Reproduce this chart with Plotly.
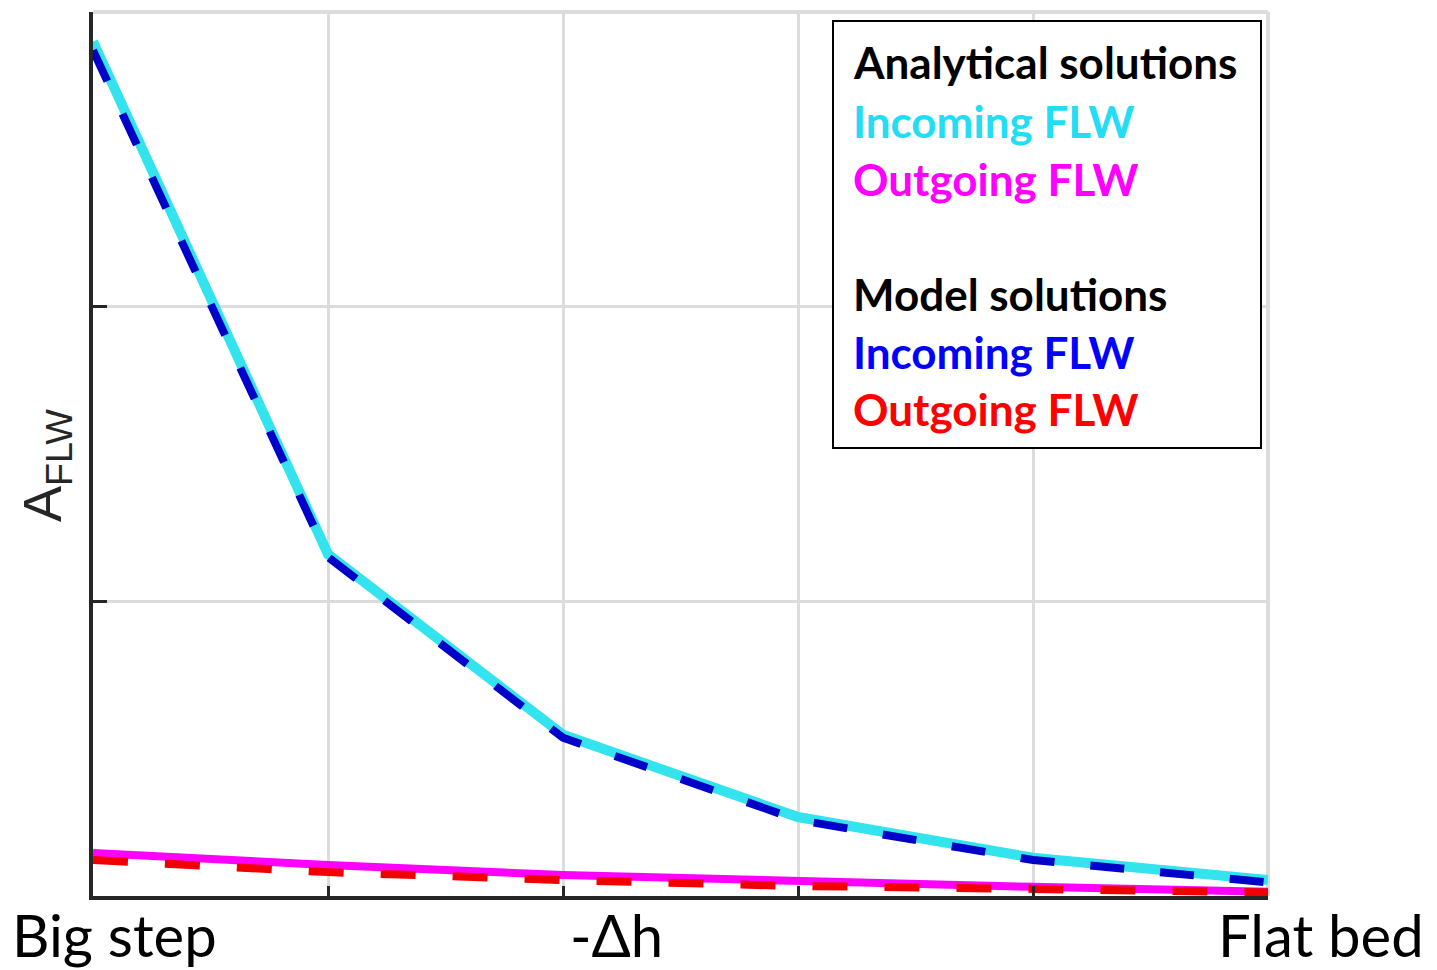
import plotly.graph_objects as go

# Data (arbitrary units)
x_pos = [0, 1, 2, 3, 4, 5]
analytical_incoming = [2.90, 1.16, 0.547, 0.268, 0.130, 0.054]
model_incoming = [2.87, 1.15, 0.537, 0.258, 0.122, 0.046]
analytical_outgoing = [0.146, 0.105, 0.071, 0.048, 0.031, 0.014]
model_outgoing = [0.122, 0.081, 0.054, 0.034, 0.024, 0.012]

x_tick_labels = ["Big step", "-Δh", "Flat bed"]
legend_groups = [
    ("Analytical solutions", "#000000"),
    ("Incoming FLW", "#22DDF5"),
    ("Outgoing FLW", "#FF00FF"),
    ("Model solutions", "#000000"),
    ("Incoming FLW", "#0000FF"),
    ("Outgoing FLW", "#FF0000"),
]

W, H = 1437, 970
L, R, T, B = 93, 169, 12, 74

fig = go.Figure()
fig.add_trace(go.Scatter(x=x_pos, y=analytical_incoming, mode="lines",
                         line=dict(color="#33E3EE", width=10), cliponaxis=False))
fig.add_trace(go.Scatter(x=x_pos, y=model_incoming, mode="lines",
                         line=dict(color="#0000C8", width=8, dash="34px,36px"), cliponaxis=False))
fig.add_trace(go.Scatter(x=x_pos, y=analytical_outgoing, mode="lines",
                         line=dict(color="#FF00FF", width=8), cliponaxis=False))
fig.add_trace(go.Scatter(x=x_pos, y=model_outgoing, mode="lines",
                         line=dict(color="#F00000", width=8, dash="35px,37px"), cliponaxis=False))

fig.update_xaxes(range=[0, 5], tickvals=[1, 2, 3, 4, 5], showticklabels=False,
                 ticks="inside", ticklen=10, tickwidth=3, tickcolor="#262626",
                 showgrid=True, gridcolor="#DCDCDC", gridwidth=3,
                 showline=True, linecolor="#262626", linewidth=4, zeroline=False)
fig.update_yaxes(range=[0, 3], tickvals=[1, 2, 3], showticklabels=False,
                 ticks="inside", ticklen=14, tickwidth=3, tickcolor="#262626",
                 showgrid=True, gridcolor="#DCDCDC", gridwidth=3,
                 showline=True, linecolor="#262626", linewidth=4, zeroline=False)

shapes = [
    dict(type="line", xref="paper", yref="paper", x0=0, x1=1, y0=1, y1=1,
         line=dict(color="#DCDCDC", width=4), layer="below"),
    dict(type="line", xref="paper", yref="paper", x0=1, x1=1, y0=0, y1=1,
         line=dict(color="#DCDCDC", width=4), layer="below"),
]

pw, ph = W - L - R, H - T - B

def px_x(p):
    return (p - L) / pw

def px_y(p):
    return (H - B - p) / ph

# legend box
shapes.append(dict(type="rect", xref="paper", yref="paper",
                   x0=px_x(833), x1=px_x(1261), y0=px_y(448), y1=px_y(21),
                   line=dict(color="#000000", width=2), fillcolor="white", layer="above"))

annotations = []
line_centers = [60, 119, 177, 292, 350, 407]
for (txt, col), yc in zip(legend_groups, line_centers):
    annotations.append(dict(text="<b>" + txt + "</b>", xref="paper", yref="paper",
                            x=px_x(851), y=px_y(yc + 2), xanchor="left", yanchor="middle",
                            showarrow=False, font=dict(family="Lato", size=44, color=col)))

# x tick labels as annotations
tick_font = dict(family="Lato", size=58, color="#000000")
annotations.append(dict(text=x_tick_labels[0], xref="paper", yref="paper",
                        x=px_x(10), y=px_y(934), xanchor="left", yanchor="middle",
                        showarrow=False, font=tick_font))
annotations.append(dict(text=x_tick_labels[1], xref="paper", yref="paper",
                        x=px_x(616), y=px_y(934), xanchor="center", yanchor="middle",
                        showarrow=False, font=tick_font))
annotations.append(dict(text=x_tick_labels[2], xref="paper", yref="paper",
                        x=px_x(1426), y=px_y(934), xanchor="right", yanchor="middle",
                        showarrow=False, font=tick_font))
# y axis label
annotations.append(dict(text="A<sub>FLW</sub>", xref="paper", yref="paper",
                        x=px_x(46), y=px_y(466), xanchor="center", yanchor="middle",
                        textangle=-90, showarrow=False,
                        font=dict(family="Liberation Sans", size=54, color="#262626")))

fig.update_layout(width=W, height=H, margin=dict(l=L, r=R, t=T, b=B),
                  plot_bgcolor="white", paper_bgcolor="white", showlegend=False,
                  shapes=shapes, annotations=annotations)

fig.write_html("out.html")
